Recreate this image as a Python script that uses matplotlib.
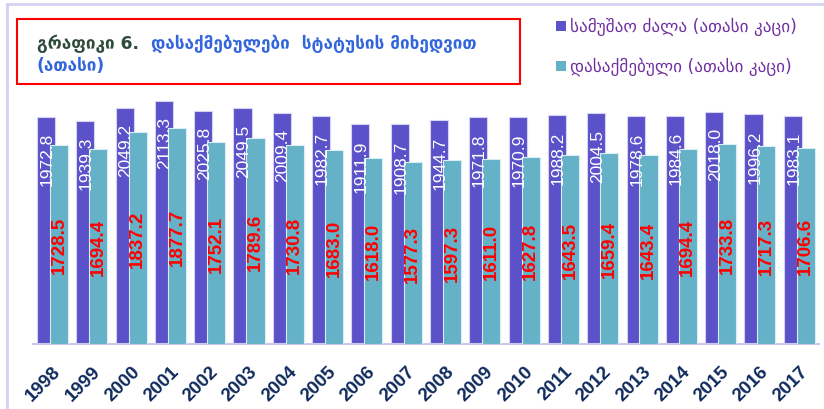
import matplotlib
matplotlib.use('Agg')
import matplotlib.pyplot as plt
from matplotlib.patches import Rectangle
from matplotlib.lines import Line2D
import numpy as np

# --- datos ---
years = [str(y) for y in range(1998, 2018)]
labor_force = [1972.8, 1939.3, 2049.2, 2113.3, 2025.8, 2049.5, 2009.4, 1982.7, 1911.9, 1908.7,
               1944.7, 1971.8, 1970.9, 1988.2, 2004.5, 1978.6, 1984.6, 2018.0, 1996.2, 1983.1]
employed = [1728.5, 1694.4, 1837.2, 1877.7, 1752.1, 1789.6, 1730.8, 1683.0, 1618.0, 1577.3,
            1597.3, 1611.0, 1627.8, 1643.5, 1659.4, 1643.4, 1694.4, 1733.8, 1717.3, 1706.6]

title_head = "გრაფიკი 6."
title_rest = "დასაქმებულები  სტატუსის მიხედვით"
title_line2 = "(ათასი)"
legend_labels = ["სამუშაო ძალა (ათასი კაცი)", "დასაქმებული (ათასი კაცი)"]

purple = '#5B51C9'
teal = '#64B1C8'

W, H = 824, 410
fig = plt.figure(figsize=(W / 100, H / 100), dpi=100)

def fx(px):
    return px / W

def fy(py):
    return 1 - py / H

# --- ejes ---
ax = fig.add_axes([fx(32.85), fy(345), fx(818.9) - fx(32.85), (345 - 90) / H])
x = np.arange(len(years))
off = 0.165
ax.bar(x - off, labor_force, width=0.46, color=purple, edgecolor='#D6D2F4', linewidth=0.8, zorder=2)
ax.bar(x + off, employed, width=0.46, color=teal, edgecolor='#D8EEF4', linewidth=0.8, zorder=3)

# etiquetas blancas (fuerza laboral) y rojas (empleados)
for xi, v in zip(x, labor_force):
    ax.annotate(f'{v:.1f}', (xi - off + 0.03, v), xytext=(0, -11), textcoords='offset points',
                rotation=90, ha='center', va='top', color='white', fontsize=12.5,
                family=['Liberation Sans', 'DejaVu Sans'], zorder=5)

for xi, v in zip(x, employed):
    ax.text(xi + off, v / 2, f'{v:.1f}', rotation=90, ha='center', va='center', color='red',
            fontweight='bold', fontsize=13.5,
            family=['Liberation Sans', 'DejaVu Sans'], zorder=5)

ax.set_xlim(-0.5, 19.5)
ax.set_ylim(0, 2215)
ax.set_xticks(x)
ax.set_xticklabels(years, rotation=45, ha='right', rotation_mode='anchor', fontweight='bold',
                   fontsize=13.5, color='#0F2A5C', family='Liberation Sans')
ax.tick_params(axis='x', length=0, pad=13)
ax.set_yticks([])
for s in ['top', 'right', 'left']:
    ax.spines[s].set_visible(False)
ax.spines['bottom'].set_color('#CCC8EE')
ax.spines['bottom'].set_linewidth(1.5)

# --- marco exterior ---
fig.add_artist(Line2D([fx(7), fx(7)], [fy(5), 0], color='#D5D1F3', lw=2))
fig.add_artist(Line2D([fx(7), 1], [fy(5), fy(5)], color='#D5D1F3', lw=2))

# --- titulo ---
fig.add_artist(Rectangle((fx(17), fy(85)), fx(520) - fx(17), (85 - 20) / H,
                         transform=fig.transFigure, fill=False, edgecolor='red', linewidth=1.5))
fig.text(fx(37), fy(44), title_head, ha='left', va='center', fontweight='bold',
         color='#2E4A3C', fontsize=12.3, family='DejaVu Sans')
fig.text(fx(151), fy(44), title_rest, ha='left', va='center', fontweight='bold',
         color='#3366DD', fontsize=12.3, family='DejaVu Sans')
fig.text(fx(37), fy(66), title_line2, ha='left', va='center', fontweight='bold',
         color='#3366DD', fontsize=12.3, family='DejaVu Sans')

# --- leyenda ---
for i, (lab, col) in enumerate(zip(legend_labels, [purple, teal])):
    yc = 27 + 40 * i
    fig.add_artist(Rectangle((fx(556), fy(yc + 5)), 9.5 / W, 10 / H, transform=fig.transFigure,
                             facecolor=col, edgecolor='none'))
    fig.text(fx(570), fy(yc), lab, ha='left', va='center', color='#7030A0', fontsize=12.3,
             family='DejaVu Sans')

fig.savefig('out.png', dpi=100)
